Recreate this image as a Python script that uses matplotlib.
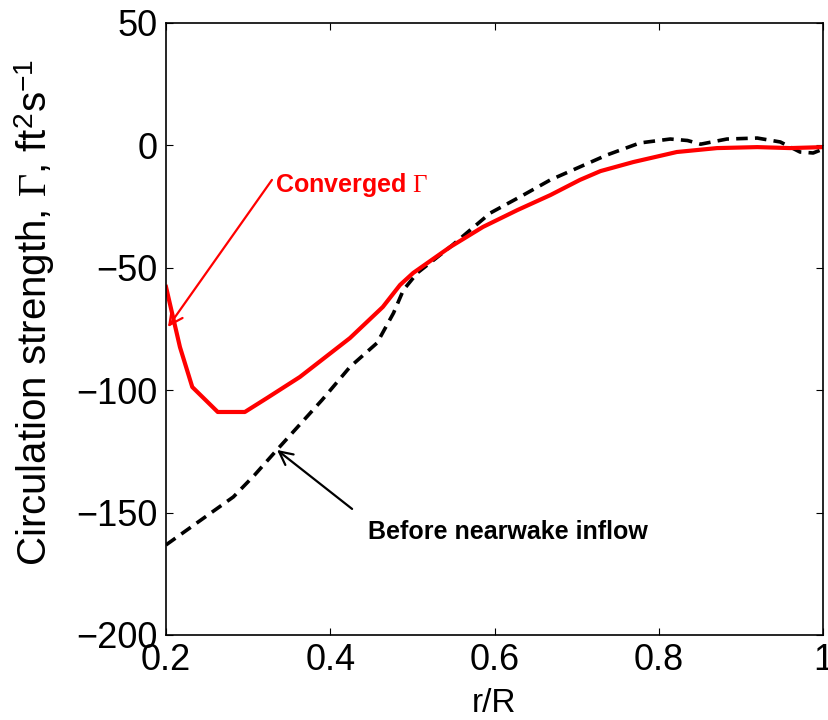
import matplotlib
matplotlib.use("Agg")
import matplotlib.pyplot as plt

plt.rcParams['font.family'] = ['Liberation Sans', 'DejaVu Sans']
plt.rcParams['mathtext.fontset'] = 'custom'
plt.rcParams['mathtext.rm'] = 'Liberation Serif'
plt.rcParams['mathtext.sf'] = 'Liberation Sans'
plt.rcParams['mathtext.it'] = 'Liberation Serif:italic'

# Converged circulation
conv_x = [0.200, 0.217, 0.232, 0.263, 0.296, 0.323, 0.363, 0.424, 0.464, 0.485,
          0.501, 0.546, 0.586, 0.628, 0.668, 0.704, 0.729, 0.769, 0.822, 0.871,
          0.920, 0.960, 1.000]
conv_y = [-57.8, -82.4, -98.7, -108.9, -108.9, -103.2, -94.6, -78.7, -66.0, -57.0,
          -52.1, -41.5, -33.3, -26.4, -20.3, -14.1, -10.5, -6.8, -2.7, -1.1,
          -0.7, -1.1, -0.7]

# Before nearwake inflow
before_x = [0.200, 0.282, 0.308, 0.335, 0.390, 0.424, 0.457, 0.477, 0.489, 0.506,
            0.546, 0.595, 0.635, 0.668, 0.737, 0.777, 0.814, 0.835, 0.851, 0.883,
            0.920, 0.948, 0.972, 0.988, 1.000]
before_y = [-163.2, -143.6, -134.6, -124.4, -104.0, -90.5, -80.7, -68.5, -59.1, -52.1,
            -41.5, -27.6, -20.3, -14.1, -3.9, 1.0, 2.6, 2.0, 0.5, 2.6,
            3.0, 1.4, -2.7, -3.1, -1.5]

xticks = [0.2, 0.4, 0.6, 0.8, 1.0]
xticklabels = ['0.2', '0.4', '0.6', '0.8', '1']
yticks = [-200, -150, -100, -50, 0, 50]
yticklabels = ['\u2212200', '\u2212150', '\u2212100', '\u221250', '0', '50']

fig = plt.figure(figsize=(8.29, 7.2), dpi=100)
ax = fig.add_axes([166/829, 1-635/720, (823-166)/829, (635-23)/720])

ax.plot(before_x, before_y, color='black', lw=2.6, linestyle=(0, (3.2, 2.0)))
ax.plot(conv_x, conv_y, color='red', lw=3.0)

ax.set_xlim(0.2, 1.0)
ax.set_ylim(-200, 50)
ax.set_xticks(xticks)
ax.set_xticklabels(xticklabels)
ax.set_yticks(yticks)
ax.set_yticklabels(yticklabels)
ax.tick_params(direction='in', length=5, width=0.8, labelsize=26,
               top=True, right=True, pad=6)
for s in ax.spines.values():
    s.set_linewidth(1.2)

ax.set_xlabel('r/R', fontsize=24)
ax.xaxis.set_label_coords(0.5, -0.086)
ax.set_ylabel(r'Circulation strength, $\Gamma$, ft$^{\mathsf{2}}$s$^{\mathsf{-1}}$',
              fontsize=29)
ax.yaxis.set_label_coords(-0.166, 0.527)

# arrows
ax.annotate('', xy=(0.2024, -74.2), xytext=(0.329, -14.1),
            arrowprops=dict(arrowstyle='->', color='red', lw=1.6,
                            mutation_scale=24, shrinkA=0, shrinkB=0))
ax.annotate('', xy=(0.3352, -124.4), xytext=(0.4266, -148.5),
            arrowprops=dict(arrowstyle='->', color='black', lw=1.6,
                            mutation_scale=24, shrinkA=0, shrinkB=0))
ax.text(0.3328, -16.2, 'Converged $\\Gamma$', color='red', fontsize=18,
        fontweight='bold', va='center', ha='left')
ax.text(0.446, -157.9, 'Before nearwake inflow', color='black', fontsize=18,
        fontweight='bold', va='center', ha='left')

fig.savefig('out.png', dpi=100)
